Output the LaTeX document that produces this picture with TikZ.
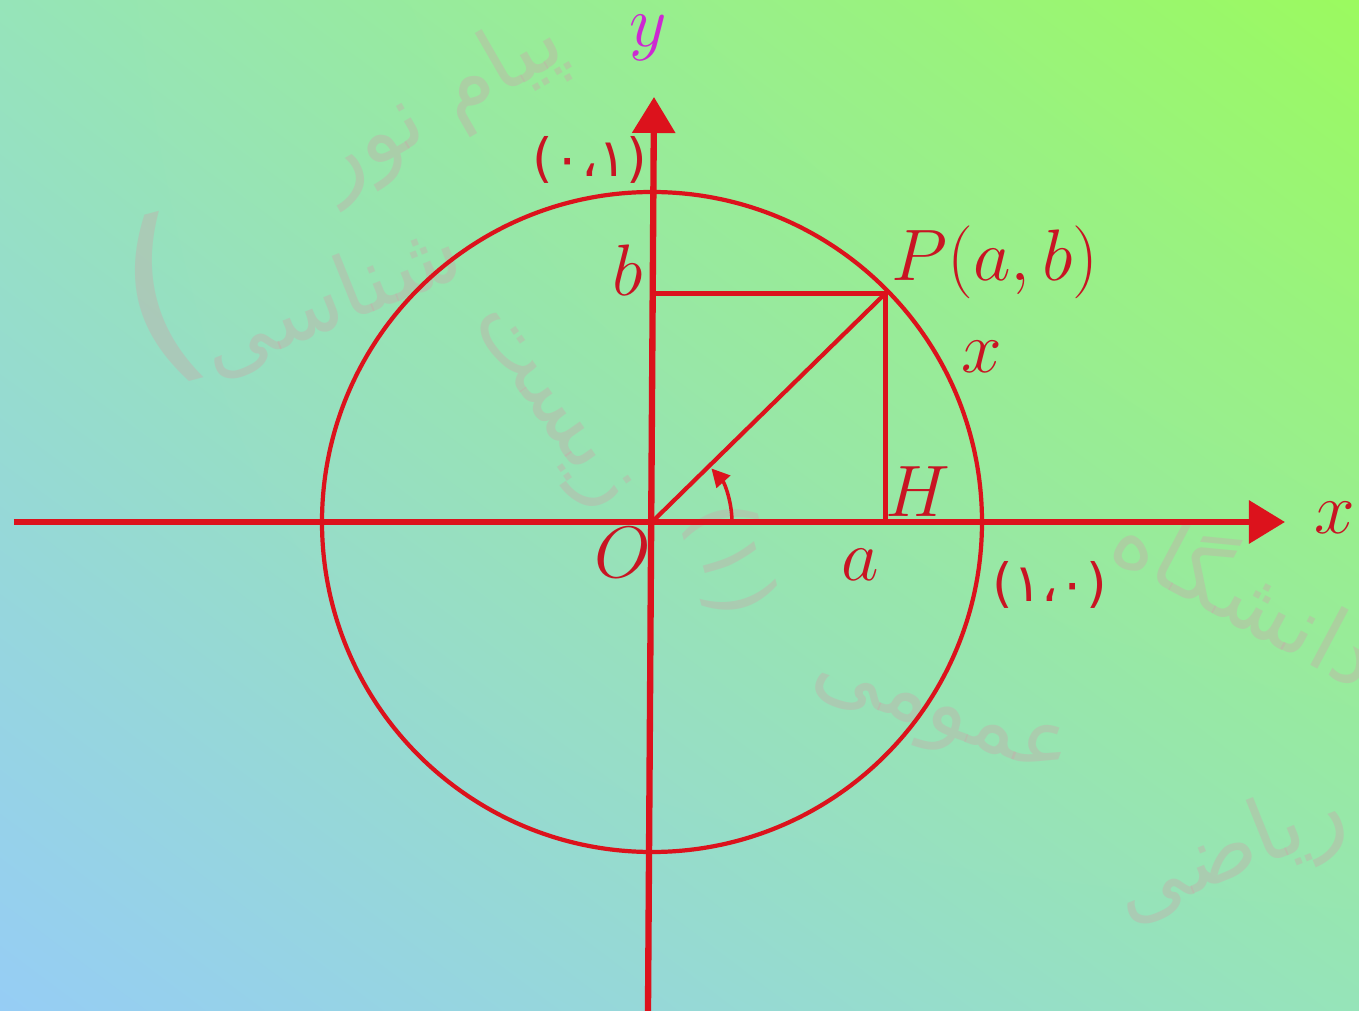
\documentclass[tikz,border=0pt]{standalone}
\usepackage{fontspec}
\usepackage{tikz}
\usetikzlibrary{arrows.meta,positioning,calc,shadings}
\TeXXeTstate=1
\newfontfamily\persianfont[Script=Arabic]{DejaVu Sans}
\newfontfamily\digitfont{DejaVu Sans}

\definecolor{lineRed}{RGB}{220,18,28}
\definecolor{textRed}{RGB}{200,20,35}
\definecolor{labelMagenta}{RGB}{205,40,210}
\definecolor{bgBlue}{RGB}{150,205,245}
\definecolor{bgMid}{RGB}{150,228,185}
\definecolor{bgGreen}{RGB}{155,250,95}
\definecolor{markGray}{RGB}{200,170,170}

\tikzset{
  axisline/.style={draw=lineRed, line width=1.8pt, -{Triangle[length=0.36cm,width=0.42cm]}},
  redline/.style={draw=lineRed, line width=1.2pt},
  lbl/.style={text=textRed, font=\fontsize{20}{24}\selectfont, inner sep=0pt},
  unitlbl/.style={text=textRed, font=\digitfont\fontsize{15}{18}\selectfont, inner sep=0pt},
  watermark/.style={text=markGray, opacity=0.4, font=\persianfont\fontsize{25}{30}\selectfont, inner sep=0pt},
}

\begin{document}
\begin{tikzpicture}[x=0.01cm,y=0.01cm]
  % background
  \shade[lower left=bgBlue, upper left=bgMid, upper right=bgGreen, lower right=bgMid] (0,0) rectangle (1359,1011);
  \useasboundingbox (0,0) rectangle (1359,1011);

  % watermark
  \begin{scope}
    \clip (0,0) rectangle (1359,1011);
    \node[watermark, rotate=30] (wmNoor) at (440,906) {\beginR پیام نور\endR};
    \node[watermark, rotate=22] (wmShenasi) at (330,711) {\beginR شناسی\endR};
    \node[watermark, rotate=15, font=\digitfont\fontsize{55}{60}\selectfont] (wmParen) at (160,711) {(};
    \node[watermark, rotate=-55] (wmZist) at (545,600) {\beginR زیست\endR};
    \node[watermark, rotate=-75, font=\digitfont\fontsize{25}{30}\selectfont] (wmOne) at (730,451) {(۱)};
    \node[watermark, rotate=-28] (wmDaneshgah) at (1250,421) {\beginR دانشگاه\endR};
    \node[watermark, rotate=-20] (wmOmumi) at (940,291) {\beginR عمومی\endR};
    \node[watermark, rotate=22] (wmRiazi) at (1230,156) {\beginR ریاضی\endR};
  \end{scope}

  % axes and unit circle
  \coordinate (O) at (652,489);
  \coordinate (xStart) at (14,489);
  \coordinate (xEnd) at (1285,489);
  \coordinate (yStart) at (648,0);
  \coordinate (yEnd) at (654,914);
  \draw[axisline] (xStart) -- (xEnd);
  \draw[axisline] (yStart) -- (yEnd);
  \draw[redline] (O) circle (330);

  % point P and its projections
  \coordinate (P) at ($(O)+(44.4:327)$);
  \coordinate (H) at (P |- O);
  \coordinate (B) at (P -| O);
  \draw[redline, line width=1.5pt] (B) -- (P) -- (H);
  \draw[redline] (O) -- (P);
  \draw[redline, line width=1pt, -{Triangle[length=0.18cm,width=0.18cm]}] ($(O)+(80,0)$) arc (0:42:80);

  % labels
  \node[lbl, text=labelMagenta] (yLabel) at (648,973) {$y$};
  \node[lbl] (xLabel) at (1335,493) {$x$};
  \node[unitlbl] (unitY) at (590,851) {(۰،۱)};
  \node[unitlbl] (unitX) at (1050,426) {(۱،۰)};
  \node[lbl] (bLabel) at (628,741) {$b$};
  \node[lbl] (aLabel) at (860,446) {$a$};
  \node[lbl] (oLabel) at (623,458) {$O$};
  \node[lbl] (hLabel) at (918,519) {$H$};
  \node[lbl] (pLabel) at (995,749) {$P(a,b)$};
  \node[lbl] (arcLabel) at (982,654) {$x$};
\end{tikzpicture}
\end{document}
